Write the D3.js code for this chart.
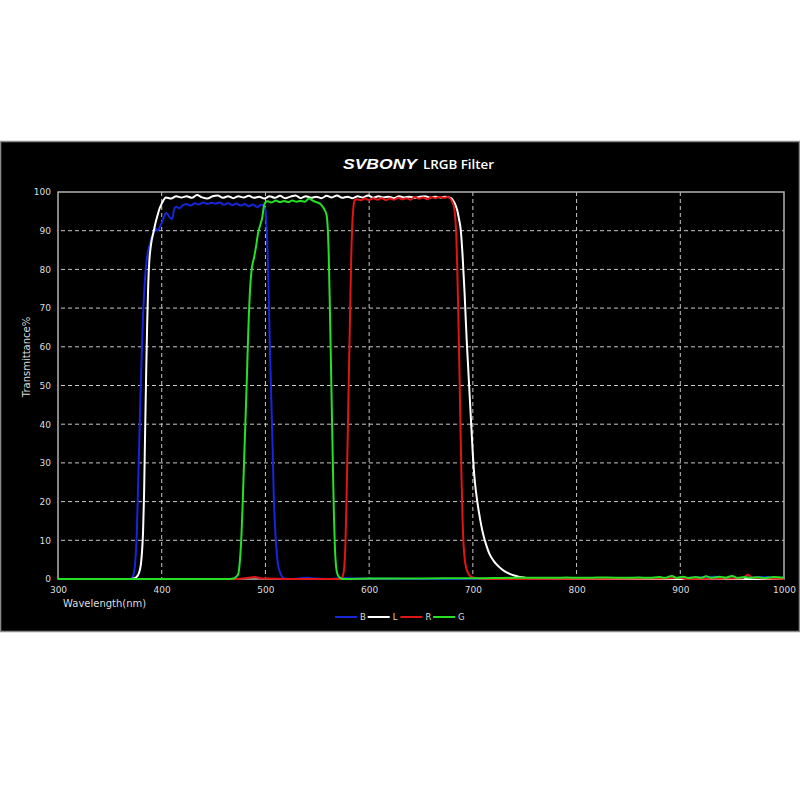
<!DOCTYPE html>
<html>
<head>
<meta charset="utf-8">
<script src="https://cdn.jsdelivr.net/npm/d3@7"></script>
<style>
  html, body { margin: 0; padding: 0; background: #ffffff; }
  svg { display: block; }
</style>
</head>
<body>
<svg id="chart" width="800" height="800"></svg>
<script>
// ---------------- DATA ----------------
const titleBrand = "SVBONY";
const titleText = "LRGB Filter";
const xLabel = "Wavelength(nm)";
const yLabel = "Transmittance%";
const xTicks = [300, 400, 500, 600, 700, 800, 900, 1000];
const yTicks = [0, 10, 20, 30, 40, 50, 60, 70, 80, 90, 100];
const seriesNames = ["B", "L", "R", "G"];
const seriesColors = ["#1626d8", "#ffffff", "#e01616", "#26e026"];

// Blue filter
const bWl = [300, 360, 370, 372, 374, 376, 378, 380, 382, 384, 386, 388, 390, 392, 394, 396, 398, 400, 402, 404, 406, 408, 410, 412, 414,
  417, 420, 424, 428, 432, 436, 440, 444, 448, 452, 456, 460, 464, 468, 472, 476, 480, 484, 488, 492, 496, 498,
  500, 501, 502, 503, 504, 505, 506, 507, 508, 509, 510, 511, 512, 514, 516, 518, 525, 540, 548, 560, 575, 585, 650, 800, 870, 880, 935, 940, 985, 990, 1000];
const bT = [0, 0, 0, 0.5, 3, 12, 32, 52, 68, 78, 83.5, 86, 88, 89.5, 90.5, 90, 90.8, 92, 93.4, 94.6, 94.2, 93.3, 93.0, 95.5, 96.2,
  95.8, 96.5, 96.9, 96.5, 97.1, 96.8, 97.3, 96.9, 97.2, 97.0, 97.3, 96.7, 97.1, 96.6, 97.0, 96.5, 96.9, 96.3, 96.8, 96.1, 96.7, 96.4,
  95.5, 91, 85, 75, 63, 53, 43, 33, 22, 15, 10, 6.5, 4, 1.8, 0.6, 0.1, 0, 0.3, 0.1, 0, 0.3, 0.1, 0, 0, 0.2, 0, 0.6, 0.1, 0.5, 0.1, 0];

// Luminance filter
const lWl = [300, 370, 374, 376, 378, 380, 381, 382, 383, 384, 385, 386, 387, 388, 389, 390, 392, 394, 396, 398, 400, 402, 404,
  409, 414, 419, 424, 429, 434, 439, 444, 449, 454, 459, 464, 469, 474, 479, 484, 489, 494, 499, 504, 509, 514, 519, 524, 529, 534, 539, 544, 549,
  554, 559, 564, 569, 574, 579, 584, 589, 594, 599, 604, 609, 614, 619, 624, 629, 634, 639, 644, 649, 654, 659, 664, 669, 674, 679,
  681, 683, 685, 687, 688, 689, 690, 691, 692, 693, 694, 695, 696, 697, 698, 699, 700, 701, 702, 704, 706, 708, 710, 713, 716, 720, 725, 730, 735, 740, 745, 750, 760, 775, 800, 1000];
const lT = [0, 0, 0.2, 0.6, 1.5, 4, 7, 12, 22, 38, 53, 66, 76, 82, 85, 87, 89.5, 92, 94, 95.8, 97, 98, 98.6,
  98.3, 98.9, 98.6, 98.9, 98.5, 99.2, 98.6, 98.3, 98.9, 99.1, 98.5, 98.9, 98.4, 98.9, 98.6, 99.0, 98.5, 98.8, 98.3, 98.9, 98.5, 99.0, 98.4, 98.8, 99.1, 98.4, 98.9, 98.5, 98.8,
  98.4, 99.0, 98.6, 99.1, 98.5, 98.8, 98.4, 98.9, 98.6, 99.1, 98.5, 98.9, 98.6, 98.8, 98.4, 98.9, 98.6, 98.8, 98.5, 98.8, 98.9, 98.6, 98.8, 98.6, 98.8, 98.4,
  97.8, 96.8, 95.2, 92.5, 91, 88, 84, 79, 74, 68, 62, 57, 52, 47, 42, 37, 32, 28, 25, 20.5, 17, 14, 11.5, 8.7, 6.5, 4.7, 3.2, 2.1, 1.4, 0.9, 0.55, 0.35, 0.15, 0.05, 0, 0];

// Red filter
const rWl = [300, 470, 480, 490, 495, 500, 520, 572, 574, 575, 576, 577, 578, 579, 580, 581, 582, 583, 584, 585, 586, 588,
  592, 596, 600, 604, 608, 612, 616, 620, 624, 628, 632, 636, 640, 644, 648, 652, 656, 660, 664, 668, 672, 676, 679,
  680.5, 682, 683, 684, 685, 686, 687, 688, 689, 690, 691, 692, 693, 695, 697, 700, 705, 710, 720, 880, 900, 905, 960, 965, 970, 1000];
const rT = [0, 0, 0.2, 0.5, 0.2, 0.1, 0, 0, 0.4, 1.2, 3, 8, 18, 32, 46, 60, 74, 86, 93, 96.5, 97.8, 98.1,
  97.9, 98.3, 97.9, 98.4, 98.0, 98.4, 97.9, 98.3, 98.0, 98.5, 98.1, 98.4, 98.0, 98.7, 98.3, 98.6, 98.1, 98.7, 98.4, 98.8, 98.5, 98.7, 98.0,
  97.2, 95.8, 93.5, 89, 80, 68, 55, 40, 27, 16, 9, 5.5, 3.5, 1.8, 0.9, 0.4, 0.15, 0.05, 0, 0.1, 0.3, 0, 0.2, 1.1, 0.3, 0];

// Green filter
const gWl = [300, 465, 470, 472, 474, 475, 476, 477, 478, 479, 480, 481, 482, 483, 484, 485, 486, 487, 489, 491, 493, 495, 497, 498, 499, 500, 502,
  506, 510, 514, 518, 522, 526, 530, 534, 538, 542, 546, 550, 553, 555, 557,
  559, 560, 561, 562, 563, 564, 565, 566, 567, 568, 569.5, 572, 575, 600, 650, 700, 720, 740, 760, 780, 790, 800, 815, 830, 845, 860, 870, 880, 885,
  892, 896, 903, 908, 915, 920, 925, 930, 938, 944, 950, 955, 962, 968, 975, 982, 990, 1000];
const gT = [0, 0, 0.2, 0.6, 1.5, 3.5, 7, 12, 19, 27, 35, 43, 51, 60, 68, 74, 78, 80.5, 83, 86, 89.5, 91.5, 93.5, 95.5, 96.8, 97.3, 97.6,
  97.3, 97.8, 97.4, 97.7, 97.4, 97.8, 97.5, 97.7, 97.5, 98.3, 97.7, 97.3, 96.9, 96.3, 95.4,
  94, 91, 84, 72, 58, 44, 30, 17, 8, 3.5, 1.2, 0.3, 0, 0.1, 0.15, 0.2, 0.25, 0.3, 0.3, 0.3, 0.4, 0.3, 0.35, 0.4, 0.3, 0.4, 0.3, 0.5, 0.3,
  0.8, 0.3, 0.6, 0.25, 0.5, 0.3, 0.7, 0.3, 0.6, 0.35, 0.8, 0.3, 0.5, 0.3, 0.45, 0.25, 0.5, 0.3];

const seriesWl = [bWl, lWl, rWl, gWl];
const seriesT = [bT, lT, rT, gT];

// ---------------- LAYOUT ----------------
const svg = d3.select("#chart");
const W = 800, H = 800;
const plot = { left: 58, right: 784, top: 192, bottom: 579 };

svg.append("rect").attr("x", 0).attr("y", 0).attr("width", W).attr("height", H).attr("fill", "#ffffff");
svg.append("rect")
  .attr("x", 0.5).attr("y", 141.5).attr("width", 799).attr("height", 490)
  .attr("fill", "#000000").attr("stroke", "#8a8a8a").attr("stroke-width", 1.5);

const x = d3.scaleLinear().domain([300, 1000]).range([plot.left, plot.right]);
const y = d3.scaleLinear().domain([0, 100]).range([plot.bottom, plot.top]);

// Title
svg.append("text")
  .attr("x", 343).attr("y", 169)
  .attr("font-family", "Liberation Sans, Arial, sans-serif")
  .attr("font-weight", "bold").attr("font-style", "italic")
  .attr("font-size", 15).attr("fill", "#ffffff")
  .attr("textLength", 74).attr("lengthAdjust", "spacingAndGlyphs")
  .text(titleBrand);
svg.append("text")
  .attr("x", 423).attr("y", 169)
  .attr("font-family", "Open Sans, sans-serif")
  .attr("font-weight", 600)
  .attr("font-size", 13).attr("fill", "#ffffff")
  .attr("textLength", 71).attr("lengthAdjust", "spacingAndGlyphs")
  .text(titleText);

// Grid
const grid = svg.append("g");
grid.selectAll("line.h").data(yTicks.filter(v => v > 0 && v < 100)).enter().append("line")
  .attr("x1", plot.left + 3).attr("x2", plot.right)
  .attr("y1", d => y(d)).attr("y2", d => y(d))
  .attr("stroke", "#c8c8c8").attr("stroke-width", 1).attr("stroke-dasharray", "4,3");
grid.selectAll("line.v").data(xTicks.filter(v => v > 300 && v < 1000)).enter().append("line")
  .attr("x1", d => x(d)).attr("x2", d => x(d))
  .attr("y1", plot.top).attr("y2", plot.bottom)
  .attr("stroke", "#c8c8c8").attr("stroke-width", 1).attr("stroke-dasharray", "4,3");

// Axes
const yAxis = svg.append("g").attr("transform", `translate(${plot.left},0)`)
  .call(d3.axisLeft(y).tickValues(yTicks).tickSize(0).tickPadding(7).tickFormat(d3.format("d")));
const xAxis = svg.append("g").attr("transform", `translate(0,${plot.bottom})`)
  .call(d3.axisBottom(x).tickValues(xTicks).tickSize(0).tickPadding(8).tickFormat(d3.format("d")));
[yAxis, xAxis].forEach(a => {
  a.select(".domain").remove();
  a.selectAll("text").attr("fill", "#dddddd").attr("font-family", "DejaVu Sans, sans-serif").attr("font-size", 9);
});

// Plot border
svg.append("rect")
  .attr("x", plot.left).attr("y", plot.top)
  .attr("width", plot.right - plot.left).attr("height", plot.bottom - plot.top)
  .attr("fill", "none").attr("stroke", "#b4b4b4").attr("stroke-width", 1.5);

// Axis titles
svg.append("text")
  .attr("x", 63).attr("y", 607)
  .attr("font-family", "DejaVu Sans, sans-serif").attr("font-size", 10).attr("fill", "#dddddd")
  .text(xLabel);
svg.append("text")
  .attr("transform", "translate(30,357) rotate(-90)")
  .attr("text-anchor", "middle")
  .attr("font-family", "DejaVu Sans, sans-serif").attr("font-size", 10).attr("fill", "#dddddd")
  .text(yLabel);

// Curves
const line = d3.line()
  .x(d => x(d[0])).y(d => y(d[1]))
  .curve(d3.curveMonotoneX);
const curves = svg.append("g");
seriesNames.forEach((name, i) => {
  const pts = seriesWl[i].map((w, k) => [w, seriesT[i][k]]);
  curves.append("path")
    .datum(pts)
    .attr("d", line)
    .attr("fill", "none")
    .attr("stroke", seriesColors[i])
    .attr("stroke-width", 2)
    .attr("stroke-linejoin", "round");
});

// Legend
const legend = svg.append("g").attr("transform", "translate(335,617)");
const step = 32.7;
seriesNames.forEach((name, i) => {
  const g = legend.append("g").attr("transform", `translate(${i * step},0)`);
  g.append("line").attr("x1", 0).attr("x2", 22).attr("y1", 0).attr("y2", 0)
    .attr("stroke", seriesColors[i]).attr("stroke-width", 2);
  g.append("text").attr("x", 25).attr("y", 3.2)
    .attr("font-family", "DejaVu Sans, sans-serif").attr("font-size", 8.5).attr("fill", "#dddddd")
    .text(name);
});
</script>
</body>
</html>
